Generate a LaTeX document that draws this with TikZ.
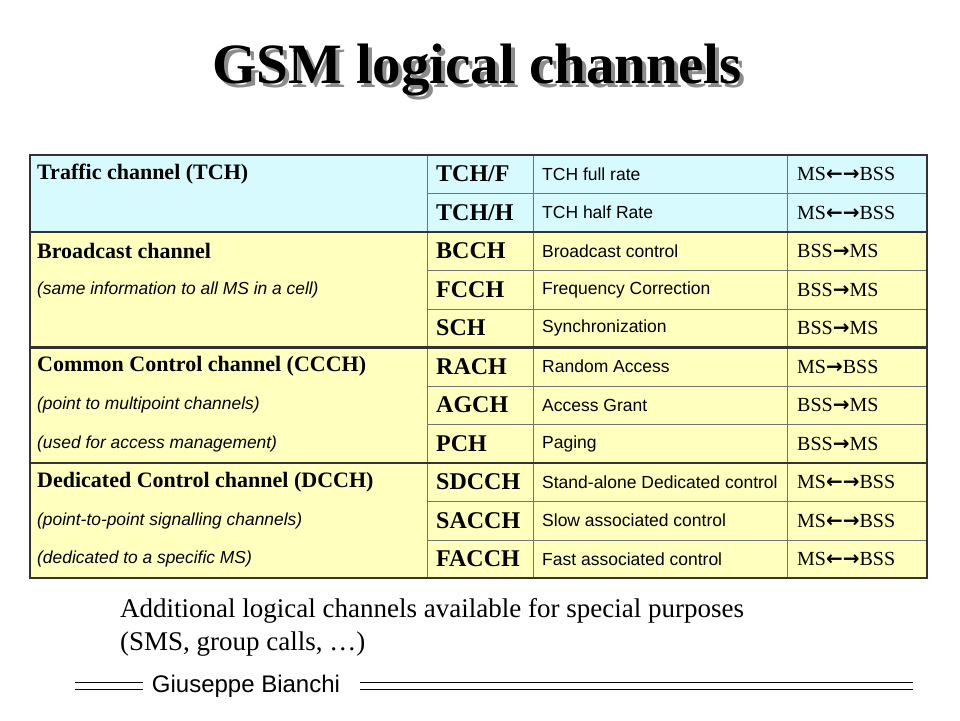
\documentclass[tikz,border=0pt]{standalone}
\usepackage{fontspec}
\setmainfont{Liberation Serif}
\setsansfont{Liberation Sans}
\newfontfamily\arrfont{DejaVu Sans}
\usetikzlibrary{positioning}
\definecolor{tchblue}{RGB}{215,250,255}
\definecolor{ctlyellow}{RGB}{255,255,190}
\newcommand{\dirboth}{MS{\arrfont\bfseries ←→}BSS}
\newcommand{\dirdown}{BSS{\arrfont\bfseries →}MS}
\newcommand{\dirup}{MS{\arrfont\bfseries →}BSS}
\tikzset{
groupname/.style = {anchor = west, font = \fontsize{22}{24}\selectfont\bfseries, inner sep = 0pt},
groupnote/.style = {anchor = west, font = \fontsize{17.4}{20}\selectfont\sffamily\itshape, inner sep = 0pt},
chcode/.style = {anchor = west, font = \fontsize{24}{26}\selectfont\bfseries, inner sep = 0pt},
chdesc/.style = {anchor = west, font = \fontsize{17.5}{20}\selectfont\sffamily, inner sep = 0pt},
chdir/.style = {anchor = west, font = \fontsize{20}{22}\selectfont, inner sep = 0pt},
thinrule/.style = {draw = black!55, line width = 0.8pt},
thickrule/.style = {draw = black!80, line width = 2.5pt},
footrule/.style = {line width = 0.8pt}
}
\begin{document}
\begin{tikzpicture}[x = 1pt, y = -1pt]
\useasboundingbox (0,0) rectangle (960,720);

%% Title with shadow
\node [font = \fontsize{57}{62}\selectfont\bfseries, text = black!45] at (481,74) {GSM logical channels};
\node [font = \fontsize{57}{62}\selectfont\bfseries] (title) at (477,70) {GSM logical channels};

%% Group backgrounds
\fill [tchblue] (30,155) rectangle (927,232);
\fill [ctlyellow] (30,232) rectangle (927,578);

%% Channel rows
\foreach \i/\code/\desc/\dir in {
  0/TCH\slash F/TCH full rate/\dirboth,
  1/TCH\slash H/TCH half Rate/\dirboth,
  2/BCCH/Broadcast control/\dirdown,
  3/FCCH/Frequency Correction/\dirdown,
  4/SCH/Synchronization/\dirdown,
  5/RACH/Random Access/\dirup,
  6/AGCH/Access Grant/\dirdown,
  7/PCH/Paging/\dirdown,
  8/SDCCH/Stand-alone Dedicated control/\dirboth,
  9/SACCH/Slow associated control/\dirboth,
  10/FACCH/Fast associated control/\dirboth} {
  \node [chcode] (code\i) at (436,174+38.5*\i) {\code};
  \node [chdesc] (desc\i) at (542,174+38.5*\i) {\desc};
  \node [chdir] (dir\i) at (797,174+38.5*\i) {\dir};
}

%% Row rules
\foreach \i in {1,3,4,6,7,9,10}
  \draw [thinrule] (427,155+38.5*\i) -- (927,155+38.5*\i);
\foreach \x in {427,533,787}
  \draw [thinrule] (\x,155) -- (\x,578);
\foreach \i in {2,5,8}
  \draw [thickrule] (30,155+38.5*\i) -- (927,155+38.5*\i);
\draw [thickrule] (30,155) rectangle (927,578);

%% Group names
\node [groupname] (tch) at (37,174) {Traffic channel (TCH)};
\node [groupname] (bch) at (37,251) {Broadcast channel};
\node [groupnote] (bchn) at (37,289.5) {(same information to all MS in a cell)};
\node [groupname] (ccch) at (37,366.5) {Common Control channel (CCCH)};
\node [groupnote] (ccchn1) at (37,405) {(point to multipoint channels)};
\node [groupnote] (ccchn2) at (37,443.5) {(used for access management)};
\node [groupname] (dcch) at (37,482) {Dedicated Control channel (DCCH)};
\node [groupnote] (dcchn1) at (37,520.5) {(point-to-point signalling channels)};
\node [groupnote] (dcchn2) at (37,559) {(dedicated to a specific MS)};

%% Note below the table
\node [anchor = north west, align = left, inner sep = 0pt,
   font = \fontsize{27}{33}\selectfont] (extra) at (120,598)
   {Additional logical channels available for special purposes\\(SMS, group calls, \dots)};

%% Footer
\node [font = \fontsize{24}{26}\selectfont\sffamily, inner sep = 0pt] (author) at (246,686) {Giuseppe Bianchi};
\draw [footrule] (75,682) -- (143,682) (75,689) -- (143,689);
\draw [footrule] (360,682) -- (913,682) (360,689) -- (913,689);
\end{tikzpicture}
\end{document}
